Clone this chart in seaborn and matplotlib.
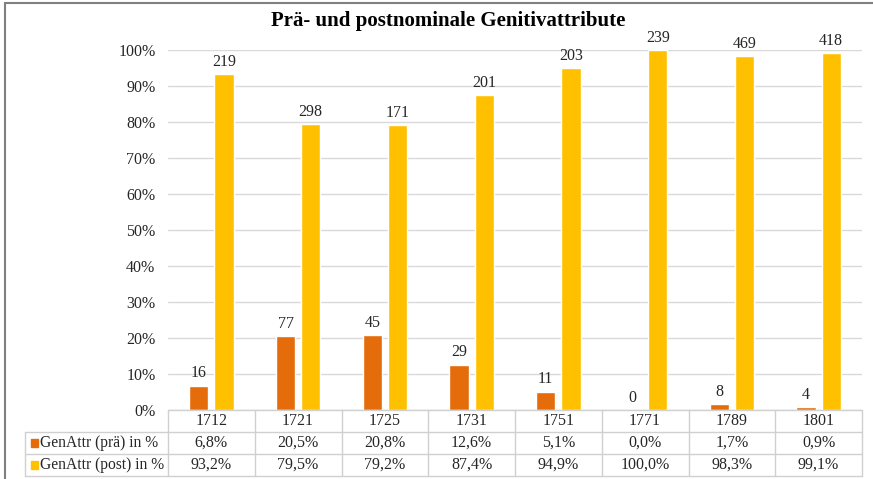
import matplotlib
matplotlib.use("Agg")
import matplotlib.pyplot as plt
import matplotlib.transforms as mtransforms
from matplotlib.lines import Line2D
from matplotlib.patches import Rectangle
import pandas as pd
import seaborn as sns

# Data
years = ["1712", "1721", "1725", "1731", "1751", "1771", "1789", "1801"]
series = ["GenAttr (prä) in %", "GenAttr (post) in %"]
pre_pct = [6.8, 20.5, 20.8, 12.6, 5.1, 0.0, 1.7, 0.9]
post_pct = [93.2, 79.5, 79.2, 87.4, 94.9, 100.0, 98.3, 99.1]
pre_counts = [16, 77, 45, 29, 11, 0, 8, 4]
post_counts = [219, 298, 171, 201, 203, 239, 469, 418]
title = "Prä- und postnominale Genitivattribute"

colors = ["#E46C0A", "#FFC000"]
grid_col = "#D9D9D9"
text_col = "#262626"
fs = 11.5

sns.set_theme(style="white")
plt.rcParams["font.family"] = ["Liberation Serif", "DejaVu Serif"]

W, H = 873, 479
fig = plt.figure(figsize=(W / 100, H / 100), dpi=100)
fig.patch.set_facecolor("white")

def fx(px):
    return px / W

def fy(py):
    return 1 - py / H

left, right, top, bottom = 168, 862, 50, 410
ax = fig.add_axes([fx(left), fy(bottom), fx(right - left), (bottom - top) / H])

df = pd.DataFrame({
    "Jahr": years * 2,
    "Serie": [series[0]] * len(years) + [series[1]] * len(years),
    "Anteil": pre_pct + post_pct,
})

sns.barplot(data=df, x="Jahr", y="Anteil", hue="Serie", palette=colors,
            width=0.58, gap=0.24, ax=ax, legend=False, saturation=1)

for cont, cnt in zip(ax.containers, [pre_counts, post_counts]):
    ax.bar_label(cont, labels=[str(c) for c in cnt], padding=3,
                 fontsize=fs, color=text_col)

ax.set_ylim(0, 100)
ax.set_xlim(-0.5, len(years) - 0.5)
ax.set_yticks(range(0, 101, 10))
ax.set_yticklabels([f"{v}%" for v in range(0, 101, 10)], fontsize=fs, color=text_col)
ax.tick_params(axis="y", length=0, pad=9)
ax.set_xticks([])
ax.set_xlabel("")
ax.set_ylabel("")
for s in ax.spines.values():
    s.set_visible(False)
ax.yaxis.grid(True, color=grid_col, linewidth=1)
ax.set_axisbelow(True)

fig.text(fx(448), fy(21), title, ha="center", va="center",
         fontsize=15, fontweight="bold", color="black")

# Data table below the axes
tr = mtransforms.blended_transform_factory(ax.transData, fig.transFigure)
table_col = "#D0D0D0"
row_y = [410, 432, 454, 476]
n = len(years)

def hline(x0, x1, y):
    fig.add_artist(Line2D([fx(x0), fx(x1)], [fy(y), fy(y)],
                          transform=fig.transFigure, color=table_col, lw=1))

hline(left, right, row_y[0])
for y in row_y[1:]:
    hline(25, right, y)
for i in range(n + 1):
    xd = i - 0.5
    fig.add_artist(Line2D([xd, xd], [fy(row_y[0]), fy(row_y[3])],
                          transform=tr, color=table_col, lw=1))
fig.add_artist(Line2D([fx(25), fx(25)], [fy(row_y[1]), fy(row_y[3])],
                      transform=fig.transFigure, color=table_col, lw=1))

rows = [years,
        [f"{v:.1f}%".replace(".", ",") for v in pre_pct],
        [f"{v:.1f}%".replace(".", ",") for v in post_pct]]
for r, vals in enumerate(rows):
    yc = fy((row_y[r] + row_y[r + 1]) / 2)
    for i, v in enumerate(vals):
        fig.add_artist(plt.Text(i, yc, v, transform=tr, ha="center", va="center",
                                fontsize=fs, color=text_col))

for r, (name, col) in enumerate(zip(series, colors), start=1):
    yc = (row_y[r] + row_y[r + 1]) / 2
    fig.add_artist(Rectangle((fx(31), fy(yc + 4)), fx(7), 8 / H,
                             transform=fig.transFigure, color=col))
    fig.text(fx(40), fy(yc), name, ha="left", va="center",
             fontsize=11.2, color=text_col)

# Outer frame (top and left)
fig.add_artist(Line2D([fx(5), 1], [fy(3), fy(3)], transform=fig.transFigure,
                      color="#808080", lw=1.5))
fig.add_artist(Line2D([fx(5), fx(5)], [0, fy(3)], transform=fig.transFigure,
                      color="#808080", lw=1.5))

fig.savefig("out.png", dpi=100)
